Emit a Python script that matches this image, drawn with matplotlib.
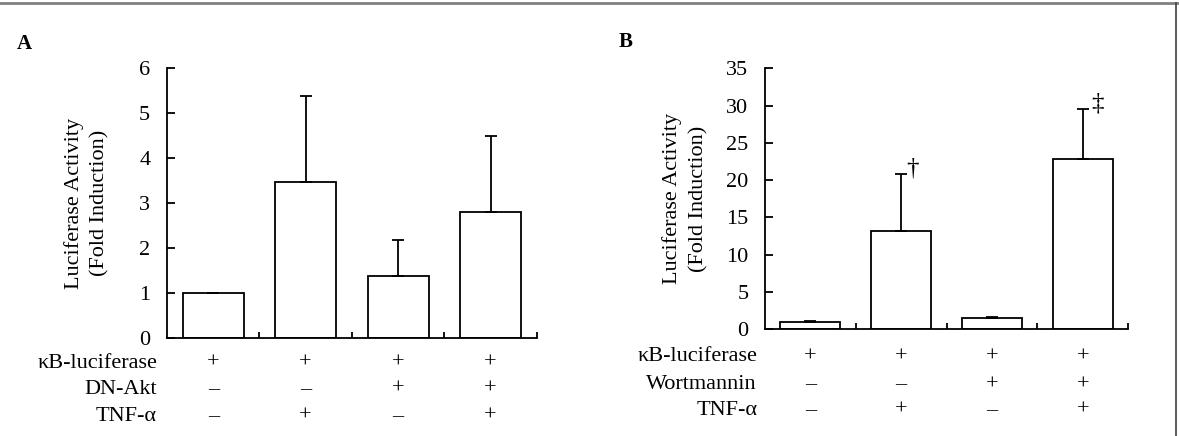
import matplotlib
matplotlib.use('Agg')
import matplotlib.pyplot as plt
from matplotlib.lines import Line2D

plt.rcParams['font.family'] = ['Liberation Serif', 'DejaVu Serif']

# panel A data
a_means = [1.0, 3.47, 1.37, 2.81]
a_errs = [0.01, 1.90, 0.81, 1.68]
a_rows = ['κB-luciferase', 'DN-Akt', 'TNF-α']
a_signs = [['+', '+', '+', '+'],
           ['–', '–', '+', '+'],
           ['–', '+', '–', '+']]
a_yticks = [0, 1, 2, 3, 4, 5, 6]

# panel B data
b_means = [1.0, 13.2, 1.47, 22.8]
b_errs = [0.10, 7.6, 0.23, 6.8]
b_rows = ['κB-luciferase', 'Wortmannin', 'TNF-α']
b_signs = [['+', '+', '+', '+'],
           ['–', '–', '+', '+'],
           ['–', '+', '–', '+']]
b_yticks = [0, 5, 10, 15, 20, 25, 30, 35]
b_marks = ['', '†', '', '‡']

LW = 1.3
FS = 16      # row labels / axis label
TFS = 16     # tick labels


def draw_panel(ax, means, errs, yticks, rows, signs, row_y, row_x, label_x):
    xs = list(range(len(means)))
    ax.bar(xs, means, width=0.66, color='white', edgecolor='black', linewidth=LW, zorder=2)
    ax.errorbar(xs, means, yerr=[[0] * len(errs), errs], fmt='none', ecolor='black',
                elinewidth=LW, capsize=4, capthick=LW, zorder=3)
    ax.set_xlim(-0.5, len(means) - 0.5)
    ax.set_ylim(yticks[0], yticks[-1])
    ax.set_yticks(yticks)
    ax.set_xticks([i + 0.5 for i in xs])
    ax.set_xticklabels([])
    ax.spines['top'].set_visible(False)
    ax.spines['right'].set_visible(False)
    ax.spines['left'].set_linewidth(LW)
    ax.spines['bottom'].set_linewidth(LW)
    ax.tick_params(axis='y', direction='in', length=6, width=LW, pad=12, labelsize=TFS)
    ax.tick_params(axis='x', direction='in', length=4, width=LW)
    ax.set_ylabel('Luciferase Activity\n(Fold Induction)', fontsize=FS, multialignment='center',
                  linespacing=1.45)
    ax.yaxis.set_label_coords(label_x, 0.5)

    tr = ax.get_xaxis_transform()
    for r, (name, row) in enumerate(zip(rows, signs)):
        ax.text(row_x, row_y[r], name, transform=ax.transAxes, ha='right', va='center', fontsize=FS)
        for i, s in enumerate(row):
            ax.text(xs[i], row_y[r], s, transform=tr, ha='center', va='center', fontsize=FS)


fig = plt.figure(figsize=(11.79, 4.36), dpi=100)

ax_a = fig.add_axes([0.1416, 0.2248, 0.3138, 0.6193])
draw_panel(ax_a, a_means, a_errs, a_yticks, a_rows, a_signs,
           [-0.093, -0.19, -0.29], -0.027, -0.154)

ax_b = fig.add_axes([0.6489, 0.2447, 0.3079, 0.5986])
draw_panel(ax_b, b_means, b_errs, b_yticks, b_rows, b_signs,
           [-0.105, -0.212, -0.31], -0.022, -0.157)

# significance marks on panel B (placed just right of the error cap)
for i, m in enumerate(b_marks):
    if m:
        dx = 8 if m == '†' else 10.5
        ax_b.annotate(m, xy=(i, b_means[i] + b_errs[i]), xytext=(dx, -4), textcoords='offset points',
                      ha='center', va='bottom', fontsize=18)

fig.text(0.014, 0.90, 'A', fontsize=15, fontweight='bold', va='center')
fig.text(0.525, 0.903, 'B', fontsize=15, fontweight='bold', va='center')

# frame lines of the original figure box
fig.add_artist(Line2D([0, 1], [0.992, 0.992], transform=fig.transFigure, color='#808080', linewidth=2))
fig.add_artist(Line2D([0.9975, 0.9975], [0, 0.992], transform=fig.transFigure, color='#404040', linewidth=1.2))

fig.savefig('out.png', dpi=100)
